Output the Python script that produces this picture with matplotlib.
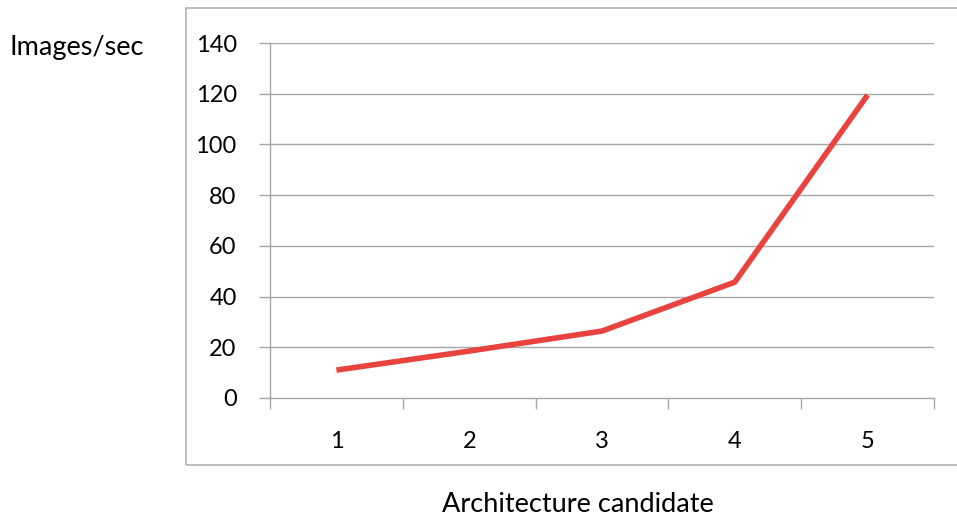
import matplotlib
matplotlib.use("Agg")
import matplotlib.pyplot as plt
from matplotlib.patches import Rectangle
import numpy as np

# data
candidates = ["1", "2", "3", "4", "5"]
images_per_sec = [11, 18.5, 26.4, 45.7, 119.5]
y_ticks = [0, 20, 40, 60, 80, 100, 120, 140]

W, H = 957, 517
plt.rcParams['font.family'] = ['Lato', 'DejaVu Sans']

fig = plt.figure(figsize=(W / 100, H / 100), dpi=100)

# outer chart frame (runs off the right edge)
fig.patches.append(Rectangle((186 / W, 1 - 465 / H), 1.0, (465 - 8) / H,
                             transform=fig.transFigure, fill=False,
                             edgecolor="#B3B3B3", linewidth=1.2))

ax = fig.add_axes([270 / W, 1 - 398 / H, (934 - 270) / W, (398 - 43) / H])
grid_c = "#A6A6A6"

x = np.arange(len(candidates))
ax.plot(x, images_per_sec, color="#E8433F", linewidth=4.0, solid_capstyle="butt")

ax.set_xlim(-0.5, len(candidates) - 0.5)
ax.set_ylim(0, 140)
ax.set_yticks(y_ticks)
ax.set_xticks(x)
ax.set_xticklabels(candidates)
ax.set_xticks(np.arange(-0.5, len(candidates)), minor=True)

for v in y_ticks[1:]:
    ax.axhline(v, color=grid_c, linewidth=1.0, zorder=0)

for s in ["top", "right"]:
    ax.spines[s].set_visible(False)
for s in ["left", "bottom"]:
    ax.spines[s].set_color(grid_c)
    ax.spines[s].set_linewidth(1.0)

ax.tick_params(axis="y", length=8, color=grid_c, width=1.0, pad=16,
               labelsize=17, labelcolor="black")
ax.tick_params(axis="x", which="major", length=0, pad=24,
               labelsize=17, labelcolor="black")
ax.tick_params(axis="x", which="minor", length=8, color=grid_c, width=1.0)

fig.text(10 / W, 1 - 48 / H, "Images/sec", fontsize=19.5, ha="left", va="center")
fig.text(578 / W, 1 - 504 / H, "Architecture candidate", fontsize=19.5,
         ha="center", va="center")

fig.savefig("out.png", dpi=100)
